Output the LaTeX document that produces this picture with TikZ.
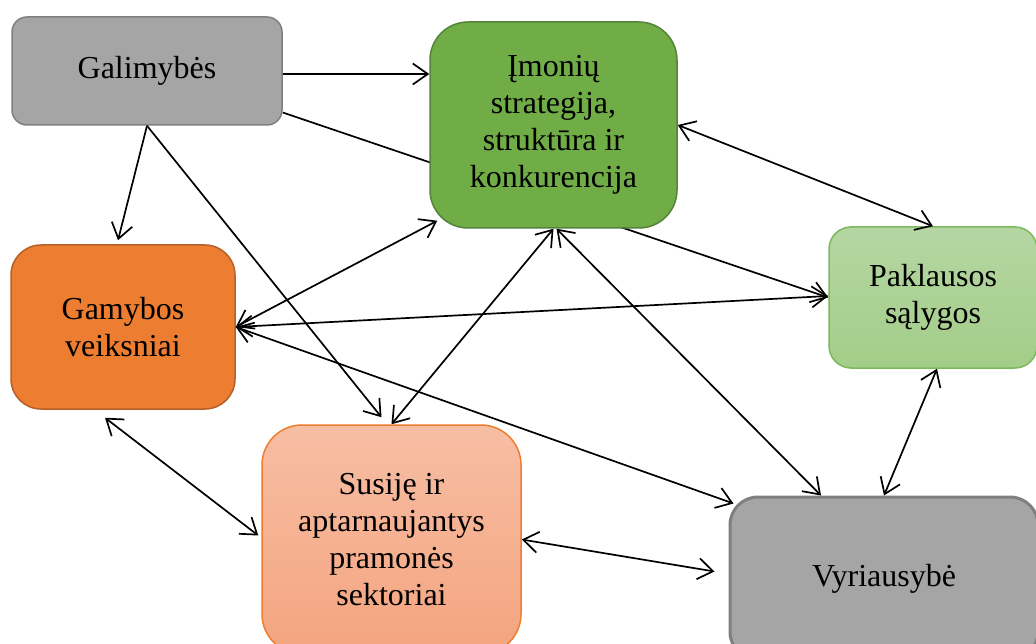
\documentclass[tikz,border=0pt]{standalone}
\usepackage{fontspec}
\setmainfont{Liberation Serif}
\usetikzlibrary{arrows.meta,backgrounds}
\definecolor{galfill}{HTML}{A5A5A5}
\definecolor{galline}{HTML}{7F7F7F}
\definecolor{imonfill}{HTML}{70AD47}
\definecolor{imonline}{HTML}{54833A}
\definecolor{paktop}{HTML}{B5D6A3}
\definecolor{pakbot}{HTML}{A3CD88}
\definecolor{pakline}{HTML}{7DB85C}
\definecolor{gamfill}{HTML}{ED7D31}
\definecolor{gamline}{HTML}{B5602A}
\definecolor{sustop}{HTML}{F7BEA4}
\definecolor{susbot}{HTML}{F4A47F}
\definecolor{susline}{HTML}{ED7D31}
\begin{document}
\begin{tikzpicture}[x=1pt,y=1pt,
  box/.style={rounded corners=#1, inner sep=0pt, align=center,
    font=\fontsize{32}{37}\selectfont, line width=1.5pt},
  link/.style={line width=1.7pt, -{Straight Barb[length=15pt,width=21pt]}},
  both/.style={line width=1.7pt, {Straight Barb[length=15pt,width=21pt]}-{Straight Barb[length=15pt,width=21pt]}}]
\path[use as bounding box, clip] (0,0) rectangle (1036,-644);
% boxes
\node [box=15pt, draw=galline, fill=galfill, minimum width=270pt, minimum height=108pt] (gal) at (147,-71) {Galimybės};
\node [box=38pt, draw=imonline, fill=imonfill, minimum width=247pt, minimum height=206pt] (imon) at (553.5,-125) {Įmonių\\strategija,\\struktūra ir\\konkurencija};
\node [box=22pt, draw=pakline, top color=paktop, bottom color=pakbot, minimum width=208pt, minimum height=141pt] (pak) at (933,-297.5) {Paklausos\\sąlygos};
\node [box=30pt, draw=gamline, fill=gamfill, minimum width=224pt, minimum height=164pt] (gam) at (123,-327) {Gamybos\\veiksniai};
\node [box=40pt, draw=susline, top color=sustop, bottom color=susbot, minimum width=259pt, minimum height=229pt] (sus) at (391.5,-539.5) {Susiję ir\\aptarnaujantys\\pramonės\\sektoriai};
\node [box=28pt, draw=galline, line width=3pt, fill=galfill, minimum width=308pt, minimum height=163pt] (vyr) at (884,-578.5) {Vyriausybė};
% line behind the green box
\begin{pgfonlayer}{background}
\draw [link] (gal.-17) -- (pak.west);
\end{pgfonlayer}
% one way
\draw [link] ([yshift=-3pt]gal.east) -- ([yshift=-3pt]gal.east -| imon.west);
\draw [link] (gal.south) -- ([shift={(-5,4)}]gam.north);
\draw [link] (gal.south) -- ([shift={(-10,7)}]sus.north);
% both ways
\draw [both] (imon.east) -- (pak.north);
\draw [both] ([shift={(8,8)}]imon.south west) -- (gam.east);
\draw [both] (gam.east) -- ([yshift=1.5pt]pak.west);
\draw [both] (gam.east) -- ([shift={(5,-8)}]vyr.north west);
\draw [both] (imon.south) -- (sus.north);
\draw [both] ([xshift=3pt]imon.south) -- ([xshift=-63pt]vyr.north);
\draw [both] ([xshift=4pt]pak.south) -- (vyr.north);
\draw [both] ([shift={(-18,-8)}]gam.south) -- ([shift={(-3,4)}]sus.west);
\draw [both] (sus.east) -- ([shift={(-14,7)}]vyr.west);
\end{tikzpicture}
\end{document}
